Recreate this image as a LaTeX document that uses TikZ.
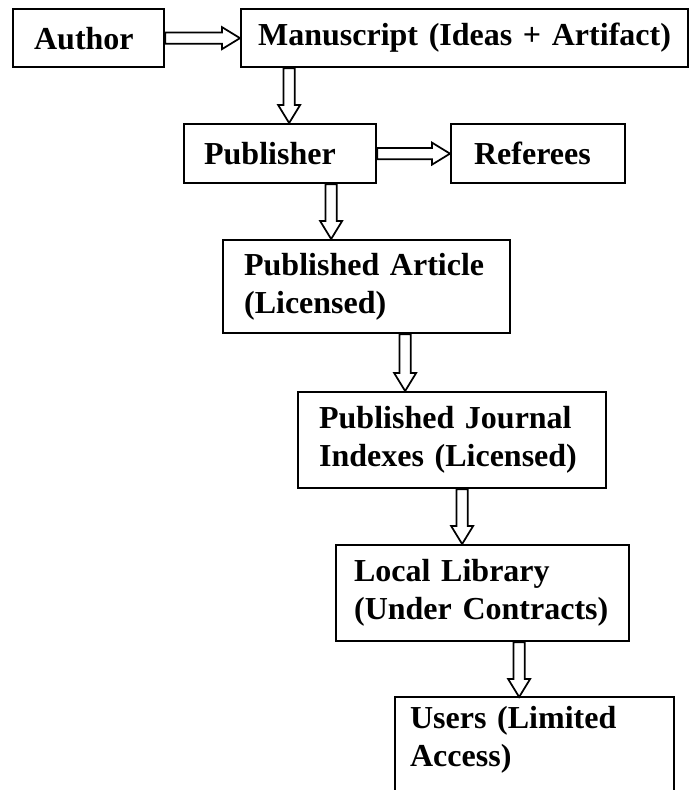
\documentclass[tikz,border=0pt]{standalone}
\usepackage{fontspec}
\setmainfont{Liberation Serif}
\usetikzlibrary{calc}

\tikzset{every picture/.style={line width=0.75pt}}
\tikzset{
  box/.style={draw, line width=1.7pt, anchor=north west, align=left,
    inner xsep=15pt, inner ysep=4pt,
    font=\fontsize{24}{28.5}\selectfont\bfseries},
  boxline/.style={line width=1.7pt},
  fatarrow/.style={draw, line width=1.3pt, line join=miter}
}
% hollow block arrow from #1 to #2
\newcommand{\fatlink}[2]{%
  \draw[fatarrow] ($(#1)!4.2pt!90:(#2)$)
    -- ($(#2)!13.5pt!(#1)!4.2pt!90:(#2)$)
    -- ($(#2)!13.5pt!(#1)!8.25pt!90:(#2)$)
    -- (#2)
    -- ($(#2)!13.5pt!(#1)!8.25pt!-90:(#2)$)
    -- ($(#2)!13.5pt!(#1)!4.2pt!-90:(#2)$)
    -- ($(#1)!4.2pt!-90:(#2)$) -- cycle ;}

\begin{document}
\begin{tikzpicture}[x=0.75pt,y=0.75pt,yscale=-1,xscale=1]
\useasboundingbox (0,0) rectangle (692,790);

%Boxes
\node[box, inner xsep=15.75pt, text width=81.75pt, minimum height=43.5pt] (aut) at (12,8) {Author};
\node[box, inner xsep=12.75pt, text width=309.75pt, minimum height=43.5pt] (man) at (240,8) {Manuscript (Ideas + Artifact)};
\node[box, text width=114pt, minimum height=44.25pt] (pub) at (183,123) {Publisher};
\node[box, inner xsep=17.25pt, text width=96pt, minimum height=44.25pt] (ref) at (450,123) {Referees};
\node[box, inner xsep=15.75pt, text width=183.75pt, minimum height=69.75pt] (art) at (222,239) {Published Article\\(Licensed)};
\node[box, inner xsep=15.75pt, text width=199.5pt, minimum height=72pt] (jou) at (297,391) {Published Journal\\Indexes (Licensed)};
\node[box, inner xsep=13.5pt, text width=192.75pt, minimum height=72pt] (lib) at (335,544) {Local Library\\(Under Contracts)};
%Users box runs off the bottom edge
\node[box, draw=none, inner xsep=10.5pt, inner ysep=6pt, text width=186.75pt] (usr) at (395,697) {Users (Limited\\Access)};
\coordinate (edge) at (0,805);
\draw[boxline] (usr.west |- edge) -- (usr.north west) -- (usr.north east) -- (usr.east |- edge) ;

%Arrow ends
\coordinate (mpB) at ($(pub.north)+(9,0)$);
\coordinate (mpA) at (mpB |- man.south);
\coordinate (paA) at ($(pub.south)+(51,0)$);
\coordinate (paB) at (paA |- art.north);
\coordinate (ajA) at ($(art.south)+(38.5,0)$);
\coordinate (ajB) at (ajA |- jou.north);
\coordinate (jlA) at ($(jou.south)+(10,0)$);
\coordinate (jlB) at (jlA |- lib.north);
\coordinate (luA) at ($(lib.south)+(36.5,0)$);
\coordinate (luB) at (luA |- usr.north);

%Arrows
\fatlink{aut.east}{man.west}
\fatlink{pub.east}{ref.west}
\fatlink{mpA}{mpB}
\fatlink{paA}{paB}
\fatlink{ajA}{ajB}
\fatlink{jlA}{jlB}
\fatlink{luA}{luB}

\end{tikzpicture}
\end{document}
